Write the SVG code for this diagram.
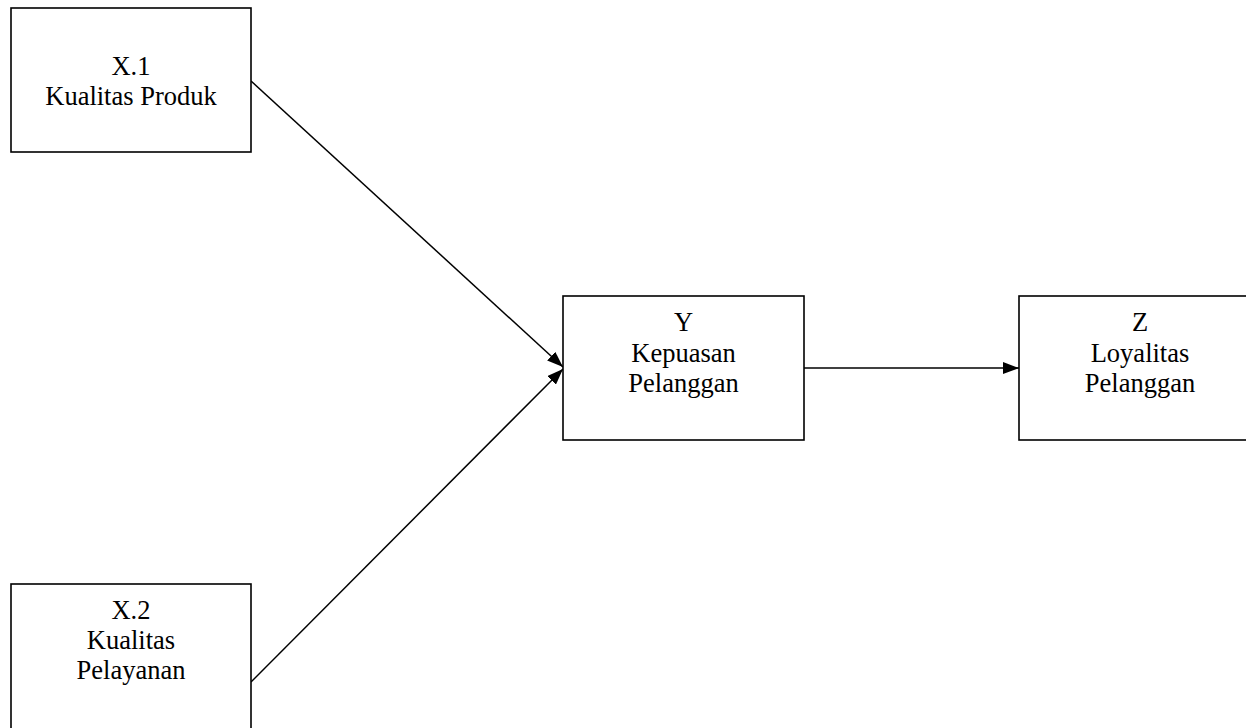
<svg xmlns="http://www.w3.org/2000/svg" width="1246" height="728" viewBox="0 0 1246 728">
  <defs>
    <marker id="arrow" viewBox="0 0 16 12" refX="16" refY="6" markerWidth="16" markerHeight="12" markerUnits="userSpaceOnUse" orient="auto">
      <path d="M0,0 L16,6 L0,12 z" fill="#000"/>
    </marker>
    <style>
      .box { fill: #fff; stroke: #000; stroke-width: 1.6; }
      .lbl { font-family: "Liberation Serif", "Times New Roman", serif; font-size: 26.5px; fill: #000; text-anchor: middle; }
      .conn { stroke: #000; stroke-width: 1.5; fill: none; marker-end: url(#arrow); }
    </style>
  </defs>
  <rect width="1246" height="728" fill="#fff"/>
  <g id="connectors">
    <line class="conn" x1="251" y1="81" x2="563" y2="367"/>
    <line class="conn" x1="251" y1="682" x2="563" y2="369"/>
    <line class="conn" x1="804" y1="368" x2="1019" y2="368"/>
  </g>
  <g id="x1">
    <rect class="box" x="11" y="8" width="240" height="144"/>
    <text class="lbl" x="131" y="75">X.1</text>
    <text class="lbl" x="131" y="105">Kualitas Produk</text>
  </g>
  <g id="x2">
    <rect class="box" x="11" y="584" width="240" height="150"/>
    <text class="lbl" x="131" y="619">X.2</text>
    <text class="lbl" x="131" y="649">Kualitas</text>
    <text class="lbl" x="131" y="679">Pelayanan</text>
  </g>
  <g id="y">
    <rect class="box" x="563" y="296" width="241" height="144"/>
    <text class="lbl" x="683.5" y="331">Y</text>
    <text class="lbl" x="683.5" y="362">Kepuasan</text>
    <text class="lbl" x="683.5" y="392">Pelanggan</text>
  </g>
  <g id="z">
    <rect class="box" x="1019" y="296" width="241" height="144"/>
    <text class="lbl" x="1140" y="331">Z</text>
    <text class="lbl" x="1140" y="362">Loyalitas</text>
    <text class="lbl" x="1140" y="392">Pelanggan</text>
  </g>
</svg>
